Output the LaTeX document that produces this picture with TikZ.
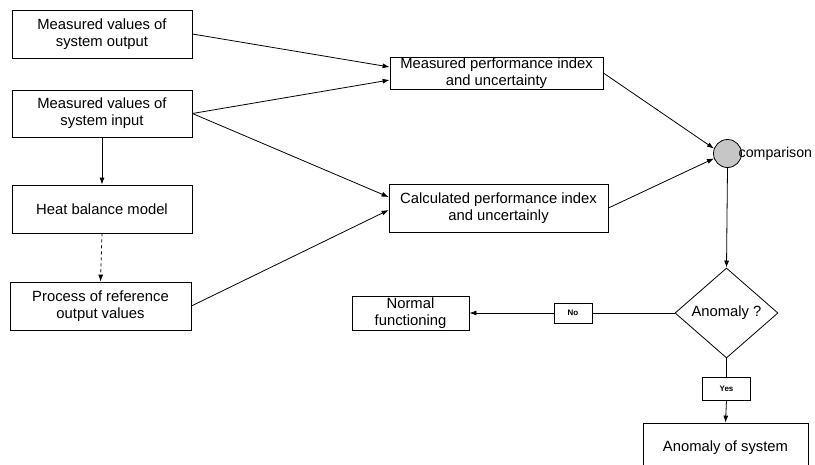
\documentclass[tikz,border=0pt]{standalone}
\usepackage{fontspec}
\setmainfont{Liberation Sans}
\usetikzlibrary{shapes.geometric,arrows.meta}
\begin{document}
\begin{tikzpicture}[x=1pt,y=-1pt,
  every node/.style={font=\fontsize{14.8}{17}\selectfont, align=center, inner sep=0pt},
  box/.style={draw, line width=0.8pt, rectangle},
  lbl/.style={draw, line width=0.8pt, rectangle, font=\fontsize{8}{9}\selectfont\bfseries},
  arr/.style={line width=0.8pt, -{Latex[length=7pt,width=5pt]}},
  ln/.style={line width=0.8pt}]
\useasboundingbox (0,0) rectangle (815,464);
\node[box, minimum width=180, minimum height=48] (A) at (102,34) {Measured values of\\system output};
\node[box, minimum width=180, minimum height=47] (B) at (102,113.5) {Measured values of\\system input};
\node[box, minimum width=180, minimum height=48] (C) at (102,209) {Heat balance model};
\node[box, minimum width=181, minimum height=48] (D) at (100.5,306) {Process of reference\\output values};
\node[box, minimum width=213, minimum height=32] (E) at (496.5,73) {Measured performance index\\and uncertainty};
\node[box, minimum width=219, minimum height=48] (F) at (498.5,208) {Calculated performance index\\and uncertainly};
\node[draw, circle, line width=0.8pt, fill=gray!45, minimum size=28] (cmp) at (727.5,153.5) {};
\node[anchor=west, font=\fontsize{14.2}{17}\selectfont] (cmpl) at (738.5,153.5) {comparison};
\node[draw, diamond, line width=0.8pt, aspect=1.14, minimum width=103, minimum height=90] (dia) at (726.5,313) {Anomaly ?};
\node[lbl, minimum width=38, minimum height=20] (no) at (573,313) {No};
\node[box, minimum width=117, minimum height=34] (nf) at (410.5,313) {Normal\\functioning};
\node[lbl, minimum width=48, minimum height=23] (yes) at (726.5,388.5) {Yes};
\node[box, minimum width=165, minimum height=50] (as) at (725.5,448) {Anomaly of system};

\draw[arr] (A.east) -- ([yshift=6pt]E.west);
\draw[arr] (B.east) -- ([yshift=-7pt]E.west);
\draw[arr] (B.east) -- ([yshift=11pt]F.west);
\draw[arr] (D.east) -- ([yshift=-2pt]F.west);
\draw[arr] (B.south) -- (C.north);
\draw[arr, dashed] (C.south) -- (D.north);
\draw[arr] (E.east) -- (cmp.160);
\draw[arr] (F.east) -- (cmp.200);
\draw[arr] (cmp.south) -- (dia.north);
\draw[ln] (dia.west) -- (no.east);
\draw[arr] (no.west) -- (nf.east);
\draw[ln] (dia.south) -- (yes.north);
\draw[arr] (yes.south) -- (as.north);
\end{tikzpicture}
\end{document}
